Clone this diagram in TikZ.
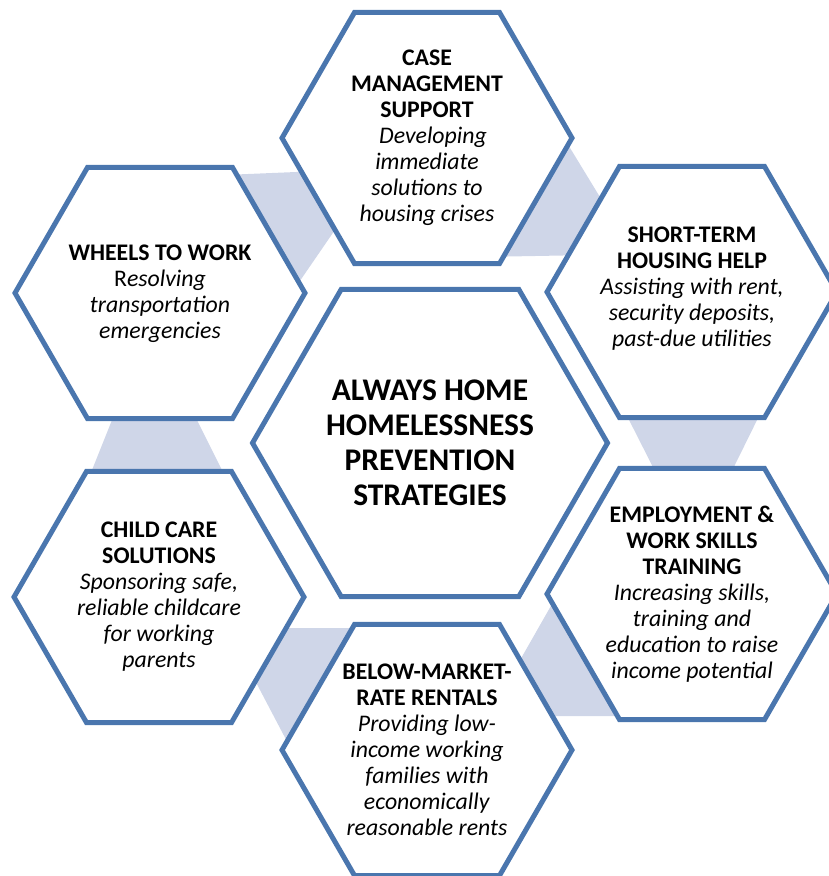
\documentclass[tikz,border=0pt]{standalone}
\usepackage{fontspec}
\setmainfont{Carlito}
\usetikzlibrary{shapes.geometric}
\definecolor{hexblue}{HTML}{4A76AE}
\definecolor{bandblue}{HTML}{CFD6E8}
\begin{document}
\begin{tikzpicture}[x=1pt,y=-1pt,
  hexbox/.style={regular polygon, regular polygon sides=6, minimum size=290pt,
    draw=hexblue, line width=5pt, fill=white, inner sep=0pt, outer sep=0pt},
  bighex/.style={hexbox, minimum size=355pt},
  band/.style={fill=bandblue, draw=none},
  lbl/.style={align=center, font=\fontsize{23.8}{26}\selectfont, inner sep=0pt},
  biglbl/.style={align=center, font=\fontsize{31.5}{35}\selectfont\bfseries, inner sep=0pt}]
\useasboundingbox (0,0) rectangle (828,876);
% connecting bands (behind the hexagons)
\fill[band] (200,176) -- (320,171) -- (350,208) -- (282,307) -- cycle;
\fill[band] (553,120) -- (617,225) -- (590,255) -- (480,257) -- cycle;
\fill[band] (624,410) -- (762,410) -- (725,485) -- (662,485) -- cycle;
\fill[band] (560,590) -- (640,716) -- (530,716) -- (503,690) -- cycle;
\fill[band] (265,628) -- (380,628) -- (302,770) -- (239,650) -- cycle;
\fill[band] (116,410) -- (192,410) -- (227,480) -- (88,480) -- cycle;
% hexagons
\node[hexbox] (hcase) at (427,138) {};
\node[hexbox] (hwheels) at (160,293) {};
\node[hexbox] (hshort) at (692,292) {};
\node[hexbox] (hemploy) at (692,594) {};
\node[hexbox] (hchild) at (159,597) {};
\node[hexbox] (hbelow) at (427,750) {};
\node[bighex] (hcenter) at (430,443) {};
% texts
\node[lbl] (tcase) at (hcase.center) {\textbf{CASE}\\\textbf{MANAGEMENT}\\\textbf{SUPPORT}\\
  \hspace*{12pt}\textit{Developing}\\\textit{immediate}\\\textit{solutions to}\\\textit{housing crises}};
\node[lbl] (twheels) at ([yshift=-1pt]hwheels.center) {\textbf{WHEELS TO WORK}\\
  R\textit{esolving}\\\textit{transportation}\\\textit{emergencies}};
\node[lbl] (tshort) at ([yshift=3pt]hshort.center) {\textbf{SHORT-TERM}\\\textbf{HOUSING HELP}\\
  \textit{Assisting with rent,}\\\textit{security deposits,}\\\textit{past-due utilities}};
\node[lbl] (temploy) at (hemploy.center) {\textbf{EMPLOYMENT \&}\\\textbf{WORK SKILLS}\\\textbf{TRAINING}\\
  \textit{Increasing skills,}\\\textit{training and}\\\textit{education to raise}\\\textit{income potential}};
\node[lbl] (tchild) at (hchild.center) {\textbf{CHILD CARE}\\\textbf{SOLUTIONS}\\
  \textit{Sponsoring safe,}\\\textit{reliable childcare}\\\textit{for working}\\\textit{parents}};
\node[lbl] (tbelow) at (hbelow.center) {\textbf{BELOW-MARKET-}\\\textbf{RATE RENTALS}\\
  \textit{Providing low-}\\\textit{income working}\\\textit{families with}\\\textit{economically}\\\textit{reasonable rents}};
\node[biglbl] (tcenter) at (hcenter.center) {ALWAYS HOME\\HOMELESSNESS\\PREVENTION\\STRATEGIES};
\end{tikzpicture}
\end{document}
